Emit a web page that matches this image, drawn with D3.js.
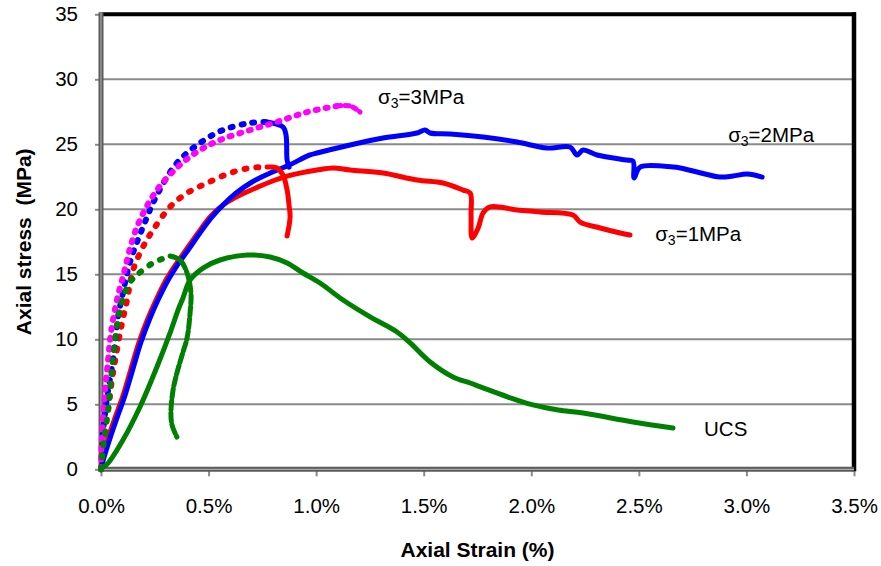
<!DOCTYPE html>
<html>
<head>
<meta charset="utf-8">
<script src="https://cdn.jsdelivr.net/npm/d3@7"></script>
<style>
  body { margin: 0; background: #fff; }
  svg { display: block; }
  text { font-family: "Liberation Sans", Arial, sans-serif; fill: #000; }
</style>
</head>
<body>
<svg id="chart" width="881" height="566"></svg>
<script>
// Triaxial compression tests: axial stress (MPa) against axial strain (%).
// "Gauge" series are the strain-gauge readings, "Lvdt" series the platen readings.

const xTicks = [0, 0.5, 1.0, 1.5, 2.0, 2.5, 3.0, 3.5];
const yTicks = [0, 5, 10, 15, 20, 25, 30, 35];

const ucsLvdt = [
  [0.005, 0.1], [0.033, 0.48], [0.102, 2.25], [0.181, 4.79], [0.26, 7.87], [0.321, 10.49],
  [0.358, 12.25], [0.381, 13.18], [0.414, 14.56], [0.474, 15.48], [0.553, 16.1], [0.679, 16.48],
  [0.786, 16.33], [0.865, 15.87], [0.939, 15.1], [1.018, 14.33], [1.125, 13.02], [1.251, 11.72],
  [1.376, 10.56], [1.437, 9.72], [1.53, 8.25], [1.636, 7.1], [1.716, 6.64], [1.776, 6.26],
  [1.892, 5.56], [2.008, 4.95], [2.125, 4.56], [2.241, 4.33], [2.473, 3.64], [2.659, 3.18]
];

const ucsGauge = [
  [0, 0], [0.014, 2.25], [0.033, 4.56], [0.046, 6.87], [0.06, 9.18], [0.079, 11.49],
  [0.102, 13.18], [0.135, 14.41], [0.167, 14.95], [0.242, 15.87], [0.321, 16.41], [0.367, 16.1],
  [0.4, 15.1], [0.418, 13.56], [0.414, 12.02], [0.4, 10.1], [0.377, 8.79], [0.353, 7.41],
  [0.335, 6.1], [0.325, 4.33], [0.33, 3.41], [0.353, 2.48]
];

const s1Lvdt = [
  [0, 0], [0.004, 0.64], [0.031, 2.3], [0.066, 4.0], [0.101, 5.6], [0.139, 7.7],
  [0.177, 9.79], [0.219, 11.64], [0.256, 13.02], [0.302, 14.56], [0.349, 15.79], [0.395, 16.87],
  [0.451, 18.18], [0.507, 19.41], [0.567, 20.33], [0.628, 20.95], [0.693, 21.45], [0.786, 22.1],
  [0.865, 22.55], [1.004, 23.02], [1.079, 23.18], [1.158, 23.02], [1.311, 22.79], [1.469, 22.25],
  [1.59, 22.02], [1.683, 21.48], [1.716, 21.25], [1.72, 19.56], [1.725, 17.79], [1.753, 18.56],
  [1.776, 19.72], [1.808, 20.18], [1.934, 19.95], [2.041, 19.8], [2.194, 19.56], [2.227, 19.02],
  [2.32, 18.56], [2.413, 18.18], [2.459, 18.02]
];

const s1Gauge = [
  [0, 0], [0.009, 2.25], [0.033, 4.56], [0.051, 6.87], [0.074, 9.18], [0.098, 11.26],
  [0.121, 13.02], [0.149, 15.33], [0.195, 17.1], [0.242, 18.41], [0.321, 20.18], [0.4, 21.25],
  [0.493, 22.02], [0.6, 22.79], [0.693, 23.18], [0.772, 23.25], [0.818, 23.18], [0.846, 22.64],
  [0.865, 21.48], [0.874, 20.33], [0.879, 19.41], [0.865, 17.95]
];

const s2Lvdt = [
  [0, 0], [0.009, 0.64], [0.04, 2.3], [0.075, 4.0], [0.11, 5.6], [0.148, 7.7],
  [0.186, 9.79], [0.228, 11.64], [0.265, 13.02], [0.312, 14.56], [0.358, 15.79], [0.405, 16.87],
  [0.46, 18.18], [0.516, 19.41], [0.572, 20.41], [0.628, 21.25], [0.702, 22.1], [0.786, 22.79],
  [0.865, 23.33], [0.972, 24.18], [1.004, 24.33], [1.158, 24.95], [1.311, 25.48], [1.469, 25.87],
  [1.506, 26.1], [1.53, 25.87], [1.622, 25.79], [1.776, 25.56], [1.934, 25.18], [2.073, 24.71],
  [2.18, 24.79], [2.213, 24.18], [2.241, 24.56], [2.306, 24.18], [2.445, 23.79], [2.473, 23.71],
  [2.478, 22.41], [2.506, 23.25], [2.659, 23.25], [2.692, 23.18], [2.771, 22.87], [2.878, 22.48],
  [2.938, 22.56], [3.003, 22.71], [3.073, 22.48]
];

const s2Gauge = [
  [0, 0], [0.005, 0.72], [0.009, 2.79], [0.019, 4.33], [0.033, 6.1], [0.051, 7.87],
  [0.065, 9.72], [0.079, 11.72], [0.098, 13.25], [0.135, 15.95], [0.195, 18.64], [0.26, 21.1],
  [0.353, 23.56], [0.46, 25.1], [0.567, 26.1], [0.693, 26.64], [0.772, 26.72], [0.846, 26.33],
  [0.86, 25.72], [0.865, 23.79], [0.874, 23.25]
];

const s3Gauge = [
  [0, 0], [0.002, 1.48], [0.009, 3.79], [0.019, 6.1], [0.033, 8.41], [0.046, 10.49],
  [0.074, 13.02], [0.098, 14.56], [0.167, 18.64], [0.26, 21.48], [0.367, 23.41], [0.46, 24.56],
  [0.553, 25.33], [0.693, 26.1], [0.818, 26.72], [0.958, 27.48], [1.097, 27.95], [1.158, 27.95],
  [1.204, 27.48]
];

const curveLabels = [
  { sub: "3", rest: "=3MPa", at: [1.288, 28.1] },
  { sub: "3", rest: "=2MPa", at: [2.915, 25.18] },
  { sub: "3", rest: "=1MPa", at: [2.576, 17.56] },
  { plain: "UCS", at: [2.803, 2.56] }
];

const W = 881, H = 566;
const pLeft = 101, pRight = 854, pTop = 14.3, pBottom = 469.3;

const svg = d3.select("#chart");
const x = d3.scaleLinear().domain([0, 3.5]).range([pLeft, pRight]);
const y = d3.scaleLinear().domain([0, 35]).range([pBottom, pTop]);

// horizontal gridlines
svg.append("g")
  .selectAll("line")
  .data(yTicks.filter(v => v > 0 && v < 35))
  .join("line")
  .attr("x1", pLeft).attr("x2", pRight)
  .attr("y1", d => y(d)).attr("y2", d => y(d))
  .attr("stroke", "#8a8a8a").attr("stroke-width", 2);

// y axis ticks and labels
const yAxis = svg.append("g")
  .attr("transform", `translate(${pLeft},0)`)
  .call(d3.axisLeft(y).tickValues(yTicks).tickSize(6).tickPadding(17).tickFormat(d3.format("d")));
yAxis.select(".domain").remove();
yAxis.selectAll(".tick line").attr("stroke", "#8a8a8a").attr("stroke-width", 2);
yAxis.selectAll(".tick text").attr("font-size", 20.5).attr("font-family", "Liberation Sans, Arial, sans-serif");

// x axis ticks and labels
const xAxis = svg.append("g")
  .attr("transform", `translate(0,${pBottom})`)
  .call(d3.axisBottom(x).tickValues(xTicks).tickSize(7).tickFormat(d => d.toFixed(1) + "%"));
xAxis.select(".domain").remove();
xAxis.selectAll(".tick line").attr("stroke", "#8a8a8a").attr("stroke-width", 2);
xAxis.selectAll(".tick text")
  .attr("font-size", 20.5).attr("font-family", "Liberation Sans, Arial, sans-serif")
  .attr("y", 44).attr("dy", null);

// plot frame: heavy black top/right, grey double-rule left/bottom
const frame = svg.append("g");
frame.append("line").attr("x1", pLeft - 1).attr("x2", pRight + 2).attr("y1", pTop).attr("y2", pTop)
  .attr("stroke", "#000").attr("stroke-width", 4);
frame.append("line").attr("x1", pRight).attr("x2", pRight).attr("y1", pTop - 2).attr("y2", pBottom + 2)
  .attr("stroke", "#000").attr("stroke-width", 4.5);
[[pLeft, pTop - 2, pLeft, pBottom + 2], [pLeft - 2, pBottom, pRight, pBottom]].forEach(([x1, y1, x2, y2]) => {
  frame.append("line").attr("x1", x1).attr("x2", x2).attr("y1", y1).attr("y2", y2)
    .attr("stroke", "#5a5a5a").attr("stroke-width", 5);
  frame.append("line").attr("x1", x1).attr("x2", x2).attr("y1", y1).attr("y2", y2)
    .attr("stroke", "#a8a8a8").attr("stroke-width", 1.2);
});

const line = d3.line()
  .x(d => x(d[0]))
  .y(d => y(d[1]))
  .curve(d3.curveCatmullRom.alpha(0.5));

const plot = svg.append("g");

function solid(data, color) {
  plot.append("path")
    .attr("d", line(data))
    .attr("fill", "none")
    .attr("stroke", color)
    .attr("stroke-width", 5)
    .attr("stroke-linecap", "round")
    .attr("stroke-linejoin", "round");
}

// gauge readings: dotted up to the peak, dense after it
function dotted(data, color, preDash, postDash) {
  const iMax = d3.maxIndex(data, d => d[1]);
  const pre = data.slice(0, iMax + 1);
  const post = data.slice(iMax);
  plot.append("path")
    .attr("d", line(pre))
    .attr("fill", "none")
    .attr("stroke", color)
    .attr("stroke-width", 6)
    .attr("stroke-linecap", "round")
    .attr("stroke-dasharray", preDash);
  if (post.length > 1) {
    plot.append("path")
      .attr("d", line(post))
      .attr("fill", "none")
      .attr("stroke", color)
      .attr("stroke-width", 5)
      .attr("stroke-linecap", "round")
      .attr("stroke-linejoin", "round")
      .attr("stroke-dasharray", postDash);
  }
}

solid(s1Lvdt, "#ff0000");
solid(s2Lvdt, "#0000ff");
solid(ucsLvdt, "#008000");
dotted(s1Gauge, "#ff0000", "2 10", "none");
dotted(s2Gauge, "#0000ff", "2 9", "none");
dotted(s3Gauge, "#ff00ff", "2 8", "4 4");
dotted(ucsGauge, "#008000", "2 10", "9 3");

// curve annotations
const ann = svg.append("g");
curveLabels.forEach(l => {
  const t = ann.append("text")
    .attr("x", x(l.at[0])).attr("y", y(l.at[1]))
    .attr("font-size", 20.5);
  if (l.plain) {
    t.text(l.plain);
  } else {
    t.append("tspan").text("σ");
    t.append("tspan").attr("font-size", 14).attr("dy", 4).text(l.sub);
    t.append("tspan").attr("dy", -4).text(l.rest);
  }
});

// axis titles
svg.append("text")
  .attr("x", (pLeft + pRight) / 2).attr("y", 557)
  .attr("text-anchor", "middle")
  .attr("font-size", 21).attr("font-weight", "bold")
  .text("Axial Strain (%)");

svg.append("text")
  .attr("transform", `translate(31,${(pTop + pBottom) / 2}) rotate(-90)`)
  .attr("text-anchor", "middle")
  .attr("font-size", 21).attr("font-weight", "bold")
  .style("white-space", "pre")
  .text("Axial stress  (MPa)");
</script>
</body>
</html>
